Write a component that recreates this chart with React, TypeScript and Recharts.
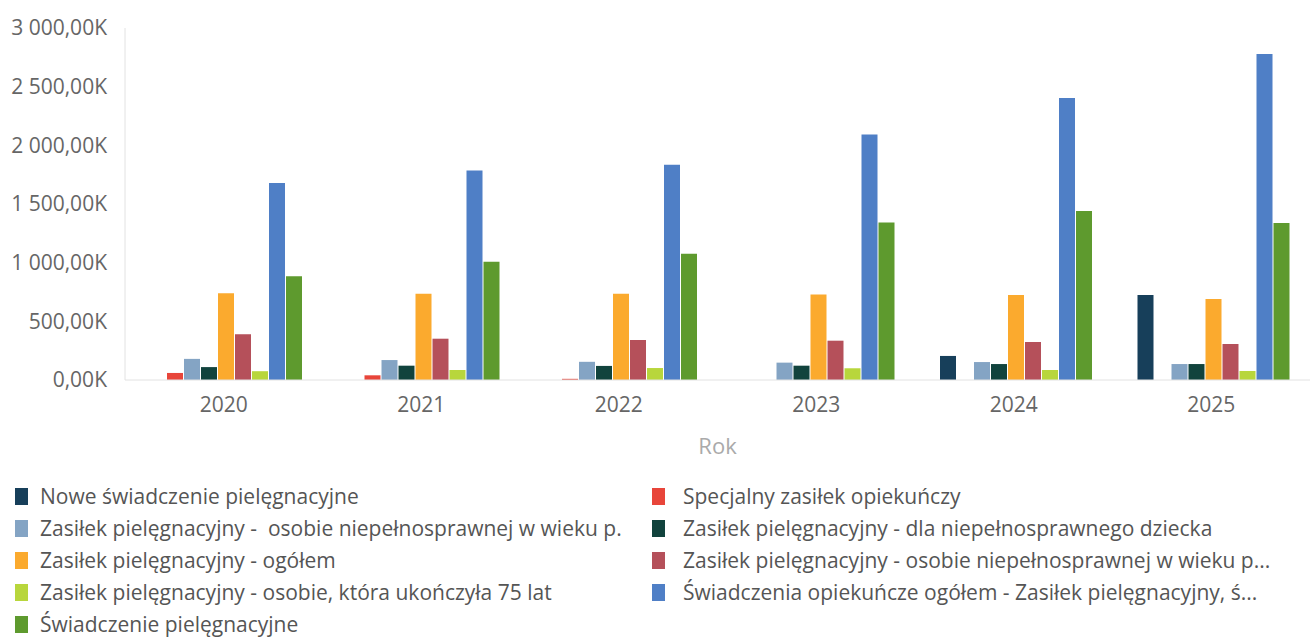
import React from 'react';
import { BarChart, Bar, XAxis, YAxis, Legend } from 'recharts';

const years = ['2020', '2021', '2022', '2023', '2024', '2025'];
const yTicks = [0, 500, 1000, 1500, 2000, 2500, 3000];

// values in thousands (K)
const nowe = [0, 0, 0, 0, 205, 725];
const specjalny = [60, 40, 10, 0, 0, 0];
const zpWiekuProd = [180, 170, 155, 148, 153, 136];
const zpDziecko = [110, 122, 120, 122, 136, 136];
const zpOgolem = [740, 735, 735, 728, 725, 690];
const zpWiekuPoprod = [390, 352, 341, 335, 324, 307];
const zp75 = [75, 85, 102, 100, 85, 77];
const opiekuncze = [1680, 1785, 1835, 2092, 2404, 2779];
const pielegnacyjne = [885, 1008, 1075, 1342, 1440, 1338];

const series = [
  { key: 'nowe', name: 'Nowe świadczenie pielęgnacyjne', color: '#173f5a', values: nowe },
  { key: 'specjalny', name: 'Specjalny zasiłek opiekuńczy', color: '#e8453a', values: specjalny },
  { key: 'zpWiekuProd', name: 'Zasiłek pielęgnacyjny -  osobie niepełnosprawnej w wieku p.', color: '#84a4c4', values: zpWiekuProd },
  { key: 'zpDziecko', name: 'Zasiłek pielęgnacyjny - dla niepełnosprawnego dziecka', color: '#11433d', values: zpDziecko },
  { key: 'zpOgolem', name: 'Zasiłek pielęgnacyjny - ogółem', color: '#fbaa2e', values: zpOgolem },
  { key: 'zpWiekuPoprod', name: 'Zasiłek pielęgnacyjny - osobie niepełnosprawnej w wieku p...', color: '#b5505a', values: zpWiekuPoprod },
  { key: 'zp75', name: 'Zasiłek pielęgnacyjny - osobie, która ukończyła 75 lat', color: '#b8d63c', values: zp75 },
  { key: 'opiekuncze', name: 'Świadczenia opiekuńcze ogółem - Zasiłek pielęgnacyjny, ś...', color: '#4f7fc6', values: opiekuncze },
  { key: 'pielegnacyjne', name: 'Świadczenie pielęgnacyjne', color: '#5e9a2e', values: pielegnacyjne },
];

const data = years.map((year, i) => {
  const row: Record<string, string | number> = { year };
  series.forEach((s) => {
    row[s.key] = s.values[i];
  });
  return row;
});

const formatK = (v: number) => {
  const s = String(v).replace(/\B(?=(\d{3})+(?!\d))/g, ' ');
  return `${s},00K`;
};

const FONT = '"Open Sans", "Noto Sans", sans-serif';

function LegendBox() {
  return (
    <div style={{ position: 'relative', width: 1310, height: 180, fontFamily: FONT, fontSize: 21, color: '#555' }}>
      {series.map((s, i) => {
        const col = i % 2;
        const row = Math.floor(i / 2);
        return (
          <div
            key={s.key}
            style={{
              position: 'absolute',
              left: col === 0 ? 15 : 652,
              top: 17 + row * 32,
              width: col === 0 ? 637 : 658,
              height: 30,
              display: 'flex',
              alignItems: 'center',
              whiteSpace: 'pre',
              overflow: 'hidden',
            }}
          >
            <span style={{ width: 13, height: 17, background: s.color, display: 'inline-block', flexShrink: 0 }} />
            <span style={{ marginLeft: col === 0 ? 12 : 18 }}>{s.name}</span>
          </div>
        );
      })}
    </div>
  );
}

export default function App() {
  return (
    <div style={{ width: 1310, height: 644, background: '#fff', overflow: 'hidden' }}>
      <style>{'body{margin:0;}'}</style>
      <BarChart
        width={1310}
        height={644}
        data={data}
        margin={{ top: 28, right: 0, left: 0, bottom: 0 }}
        barCategoryGap={25}
        barGap={1}
      >
        <XAxis
          dataKey="year"
          height={84}
          tickLine={false}
          axisLine={{ stroke: '#e2e2e2' }}
          tick={{ fill: '#666', fontSize: 21, fontFamily: FONT }}
          tickMargin={11}
          label={{ value: 'Rok', position: 'insideBottom', offset: 10, fill: '#aaa', fontSize: 22, fontFamily: FONT }}
        />
        <YAxis
          width={125}
          domain={[0, 3000]}
          ticks={yTicks}
          tickFormatter={formatK}
          tickLine={false}
          axisLine={{ stroke: '#e2e2e2' }}
          tick={{ fill: '#666', fontSize: 21, fontFamily: FONT }}
          tickMargin={12}
        />
        <Legend verticalAlign="bottom" height={180} content={() => <LegendBox />} />
        {series.map((s) => (
          <Bar key={s.key} dataKey={s.key} name={s.name} fill={s.color} isAnimationActive={false} />
        ))}
      </BarChart>
    </div>
  );
}
